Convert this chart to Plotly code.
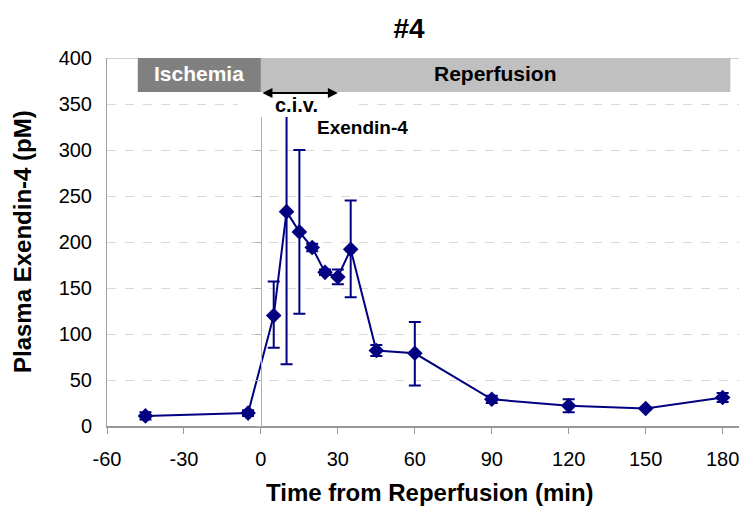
import plotly.graph_objects as go

# ---- data ----
time_min = [-45, -5, 5, 10, 15, 20, 25, 30, 35, 45, 60, 90, 120, 150, 180]
exendin_pM = [11, 14, 120, 233, 211, 194, 167, 162, 192, 82, 79, 29, 22, 19, 31]
err_plus = [4, 3, 37, 166, 89, 4, 3, 8, 53, 6, 34, 4, 7, 1, 5]
err_minus = [4, 3, 35, 166, 89, 4, 3, 8, 52, 6, 35, 4, 7, 1, 5]

phase_names = ["Ischemia", "Reperfusion"]
phase_start = [-48, 0]
phase_end = [0, 183]
phase_fill = ["#808080", "#c0c0c0"]
phase_text_color = ["white", "black"]

x_ticks = [-60, -30, 0, 30, 60, 90, 120, 150, 180]
x_tick_text = ["-60", "-30", "0", "30", "60", "90", "120", "150", "180"]
y_ticks = [0, 50, 100, 150, 200, 250, 300, 350, 400]

infusion_start, infusion_end = 0, 30

FONT = "Liberation Sans, Arial, sans-serif"
NAVY = "#000080"

fig = go.Figure()

fig.add_trace(go.Scatter(
    x=time_min, y=exendin_pM, mode="lines+markers",
    line=dict(color=NAVY, width=2),
    marker=dict(symbol="diamond", size=12, color=NAVY),
    error_y=dict(type="data", symmetric=False, array=err_plus, arrayminus=err_minus,
                 color=NAVY, thickness=2, width=6),
    showlegend=False, cliponaxis=False,
))

shapes = []
# white box behind "c.i.v." label
shapes.append(dict(type="rect", xref="x", yref="y", x0=-9, x1=38, y0=336, y1=363,
                   fillcolor="white", line=dict(width=0), layer="above"))
# phase bars
for s, e, c in zip(phase_start, phase_end, phase_fill):
    shapes.append(dict(type="rect", xref="x", yref="y", x0=s, x1=e, y0=363, y1=400,
                       fillcolor=c, line=dict(width=0), layer="above"))
# top border of plot area
shapes.append(dict(type="line", xref="paper", yref="y", x0=0, x1=1, y0=400, y1=400,
                   line=dict(color="#a0a0a0", width=1), layer="below"))

annotations = []
for name, s, e, tc in zip(phase_names, phase_start, phase_end, phase_text_color):
    annotations.append(dict(x=(s + e) / 2, y=383, xref="x", yref="y", text="<b>%s</b>" % name,
                            showarrow=False, font=dict(family=FONT, size=21, color=tc)))
# double-headed arrow for infusion period
annotations.append(dict(x=infusion_end, y=362, ax=infusion_start, ay=362, xref="x", yref="y",
                        axref="x", ayref="y", text="", showarrow=True, arrowhead=2,
                        arrowside="end+start", arrowsize=1, arrowwidth=2, arrowcolor="black"))
annotations.append(dict(x=14, y=349, xref="x", yref="y", text="<b>c.i.v.</b>", showarrow=False,
                        font=dict(family=FONT, size=20, color="black")))
annotations.append(dict(x=21, y=325, xref="x", yref="y", text="<b>Exendin-4</b>", showarrow=False,
                        xanchor="left", font=dict(family=FONT, size=19, color="black")))
# axis titles
annotations.append(dict(x=0, y=0.5, xref="paper", yref="paper", xshift=-85, textangle=-90,
                        text="<b>Plasma Exendin-4 (pM)</b>", showarrow=False,
                        xanchor="center", yanchor="middle",
                        font=dict(family=FONT, size=24, color="black")))
annotations.append(dict(x=0.505, y=0, xref="paper", yref="paper", yshift=-66,
                        text="<b>Time from Reperfusion (min)</b>", showarrow=False,
                        xanchor="center", yanchor="middle",
                        font=dict(family=FONT, size=24, color="black")))

# page body adds an 8px offset; margins compensate so the plot area lands where the reference has it
fig.update_layout(
    width=747, height=508,
    margin=dict(l=99, r=8, t=50, b=90, autoexpand=False),
    paper_bgcolor="white", plot_bgcolor="white",
    font=dict(family=FONT, color="black"),
    title=dict(text="<b>#4</b>", x=401 / 747, xanchor="center", y=1 - 20 / 508, yanchor="middle",
               font=dict(family=FONT, size=28, color="black")),
    shapes=shapes, annotations=annotations,
    xaxis=dict(range=[-60, 189.5], tickvals=x_ticks, ticktext=x_tick_text, ticks="outside",
               ticklen=6, tickcolor="#999999", tickwidth=1, showline=True, linecolor="#999999",
               linewidth=2, showgrid=False, zeroline=False, automargin=False,
               ticklabelstandoff=8, tickfont=dict(family=FONT, size=20, color="black")),
    yaxis=dict(range=[0, 400], tickvals=y_ticks, showline=True, linecolor="#a0a0a0", linewidth=1,
               showgrid=True, gridcolor="#d9d9d9", griddash="dash", gridwidth=1, zeroline=False,
               ticks="", automargin=False, ticklabelstandoff=10,
               tickfont=dict(family=FONT, size=20, color="black")),
    yaxis2=dict(range=[0, 400], overlaying="y", anchor="free",
                position=(0 - (-60)) / (189.5 - (-60)), side="left", showline=True,
                linecolor="#b0b0b0", linewidth=1, ticks="outside", ticklen=6, tickcolor="#b0b0b0",
                tickvals=y_ticks, showticklabels=False, showgrid=False, zeroline=False,
                automargin=False),
)

# invisible trace to activate yaxis2
fig.add_trace(go.Scatter(x=[0], y=[0], yaxis="y2", mode="markers",
                         marker=dict(opacity=0), showlegend=False, hoverinfo="skip"))

fig.write_html("out.html")
